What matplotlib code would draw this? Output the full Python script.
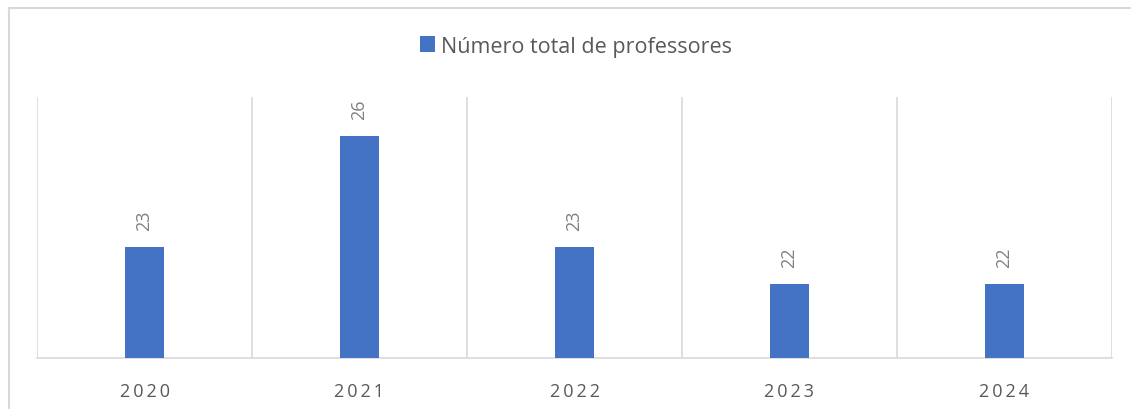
import matplotlib
matplotlib.use("Agg")
import matplotlib.pyplot as plt
from matplotlib.lines import Line2D

# data
anos = ["2020", "2021", "2022", "2023", "2024"]
professores = [23, 26, 23, 22, 22]
serie = "Número total de professores"

plt.rcParams['font.family'] = ['Open Sans', 'DejaVu Sans']

fig = plt.figure(figsize=(11.31, 4.10), dpi=100)
ax = fig.add_axes([37 / 1131, 51 / 410, (1112 - 37) / 1131, (359 - 98) / 410])

x = list(range(len(anos)))
bars = ax.bar(x, professores, width=0.18, color="#4472c4", label=serie, zorder=3)

ax.set_xlim(-0.5, len(anos) - 0.5)
ax.set_ylim(20, 27.05)

# vertical gridlines between categories
for b in range(len(anos) + 1):
    ax.axvline(b - 0.5, color="#d9d9d9", lw=1.2, zorder=1)

for s in ["top", "left", "right"]:
    ax.spines[s].set_visible(False)
ax.spines["bottom"].set_color("#d9d9d9")
ax.spines["bottom"].set_linewidth(1.2)

ax.set_yticks([])
ax.set_xticks(x)
ax.set_xticklabels(["\u2009".join(a) for a in anos], fontsize=13, color="#595959")
ax.tick_params(axis="x", length=0, pad=17)

for xi, v in zip(x, professores):
    ax.annotate(str(v), (xi, v), xytext=(0, 12), textcoords="offset points",
                rotation=90, ha="center", va="bottom", fontsize=13, color="#808080")

fig.legend(loc="center", bbox_to_anchor=(576 / 1131, 1 - 47 / 410), frameon=False,
           fontsize=15.5, handlelength=0.7, handleheight=0.7, handletextpad=0.25,
           labelcolor="#595959")

# chart area border (top and left visible)
bx, by = 8.5 / 1131, 1 - 8.5 / 410
fig.add_artist(Line2D([bx, 1.0], [by, by], transform=fig.transFigure, color="#d9d9d9", lw=1.5))
fig.add_artist(Line2D([bx, bx], [0.0, by], transform=fig.transFigure, color="#d9d9d9", lw=1.5))

fig.savefig("out.png", dpi=100)
